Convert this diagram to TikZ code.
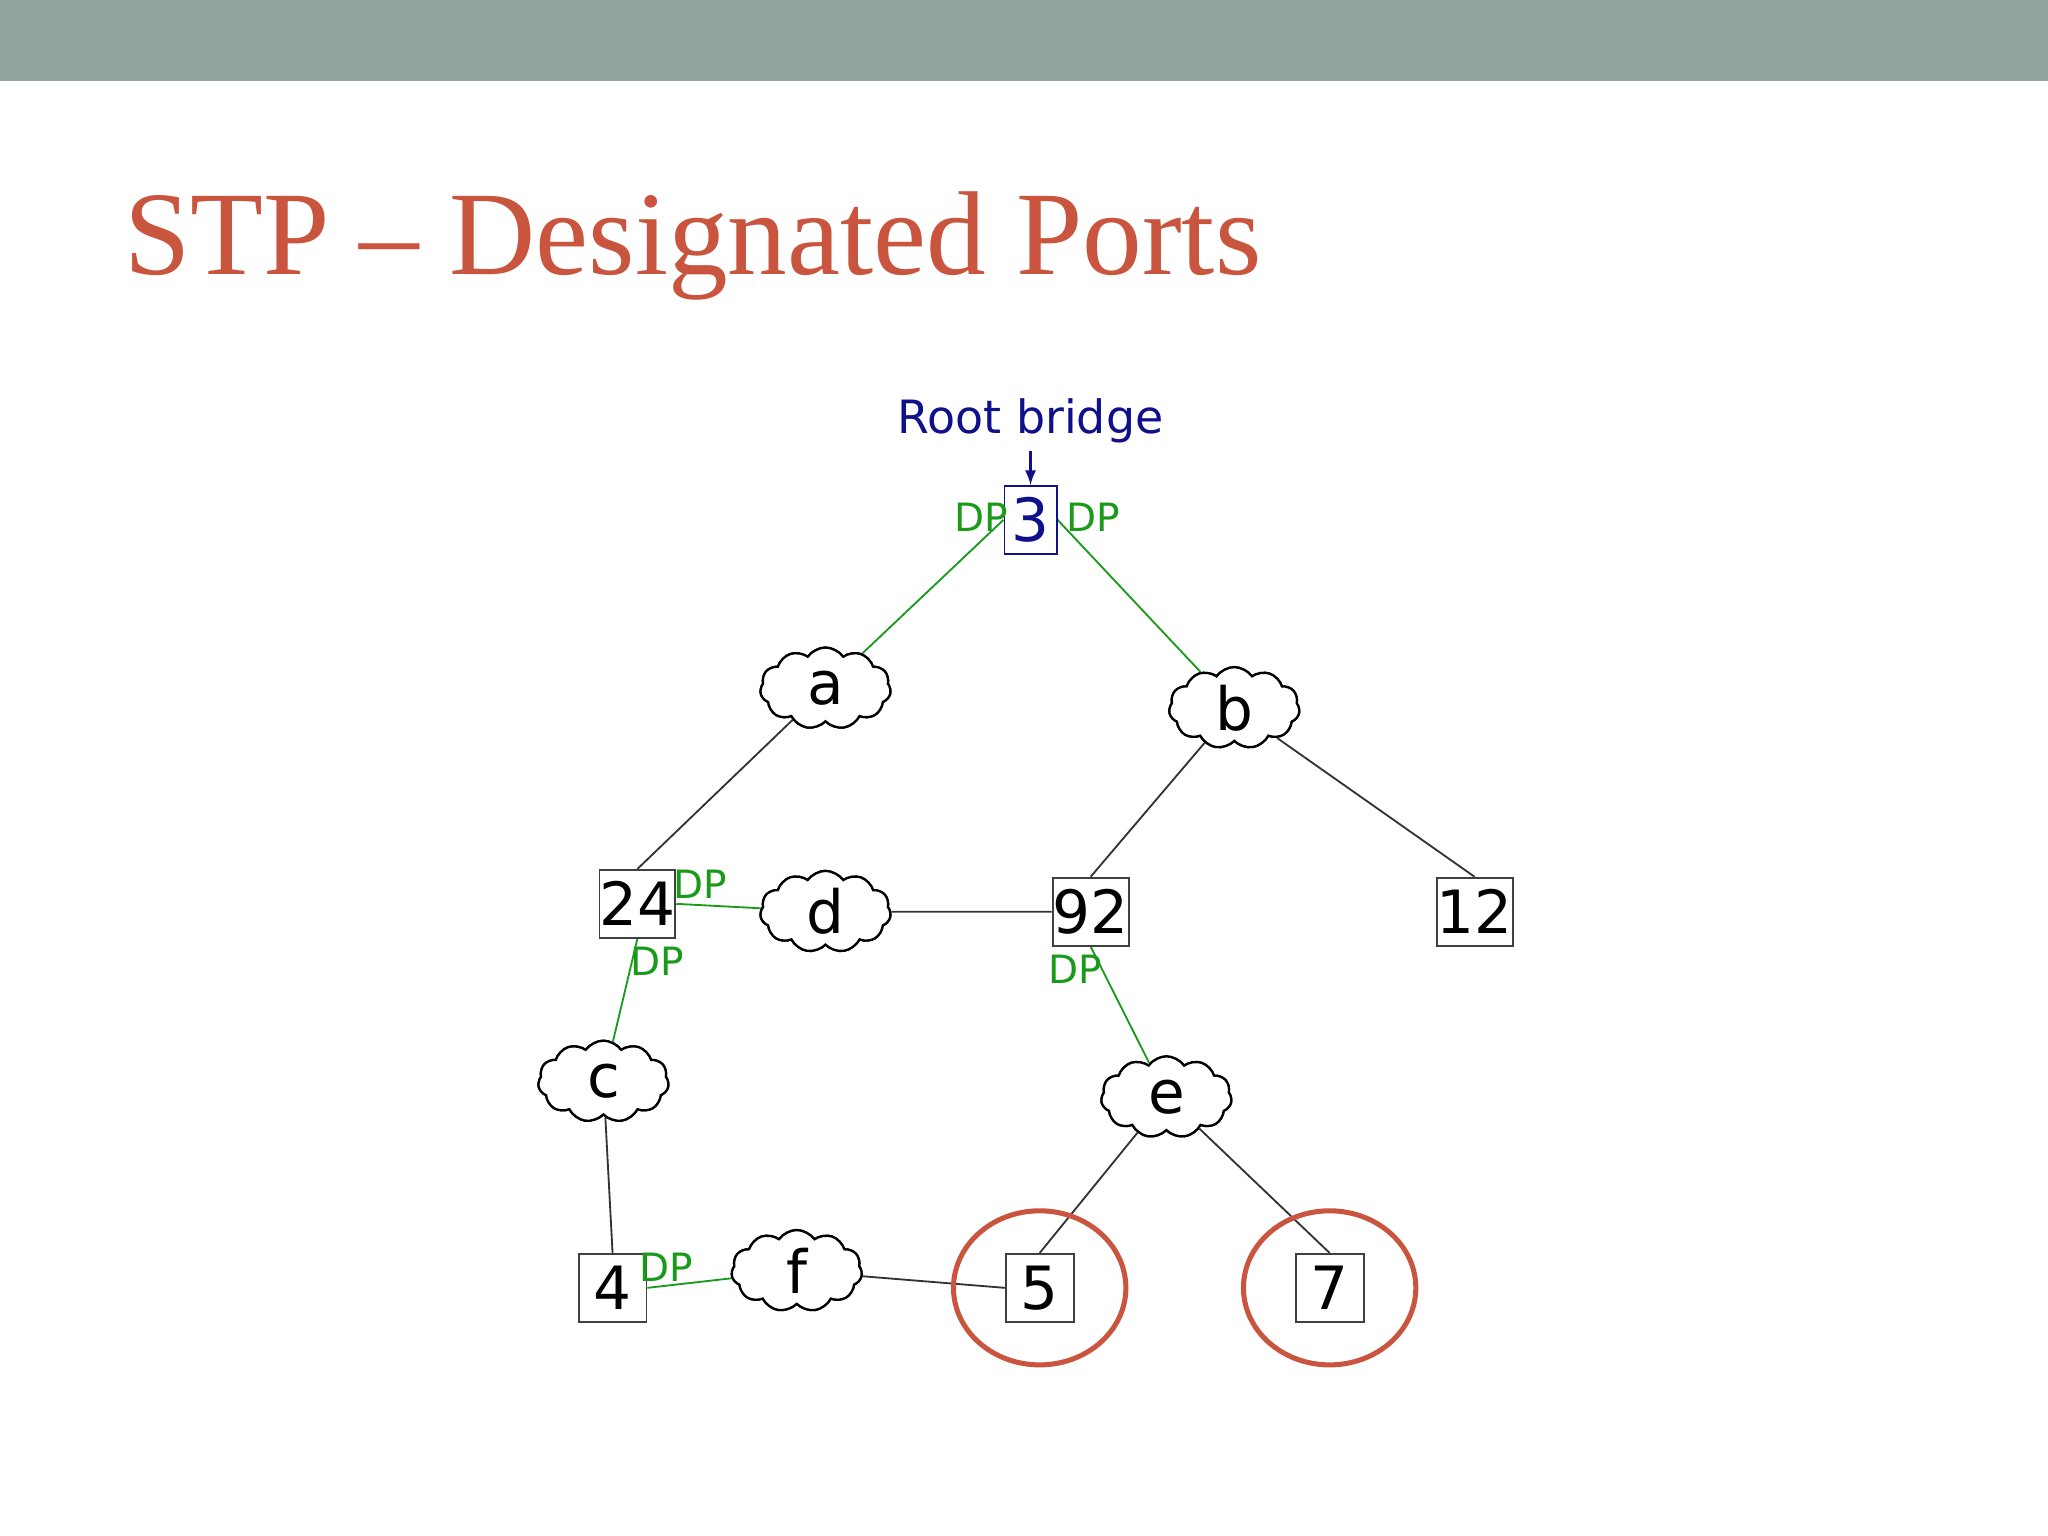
\documentclass[tikz,border=0pt]{standalone}
\usepackage{fontspec}
\setmainfont{DejaVu Sans}
\newfontfamily\titlefont{Liberation Serif}
\usetikzlibrary{shapes.symbols,shapes.geometric}
\definecolor{band}{HTML}{91A39A}
\definecolor{titlec}{HTML}{C9553F}
\definecolor{dpg}{HTML}{1A9A1A}
\definecolor{rootb}{HTML}{10108A}
\begin{document}
\begin{tikzpicture}[x=0.02cm,y=-0.02cm,
  br/.style={draw=black!75,fill=white,line width=0.8pt,minimum width=1.04cm,minimum height=1.04cm,inner sep=0pt,font=\fontsize{26}{28}\selectfont},
  cl/.style={cloud,cloud puffs=11,cloud puff arc=110,aspect=1.6,draw,fill=white,line width=1pt,minimum width=2.0cm,minimum height=1.25cm,inner sep=0pt,font=\fontsize{26}{28}\selectfont},
  gl/.style={draw=dpg,line width=0.8pt},
  bl/.style={draw=black!80,line width=0.8pt},
  dp/.style={text=dpg,font=\fontsize{17}{19}\selectfont,inner sep=0pt},
  rc/.style={draw=titlec,line width=2.2pt,ellipse}]
\useasboundingbox (0,0) rectangle (1568,1176);
\fill[band] (0,0) rectangle (1568,62);
\node[anchor=base west,text=titlec,font=\titlefont\fontsize{52}{56}\selectfont,inner sep=0pt] (title) at (95,210) {STP – Designated Ports};
% nodes
\node[cl] (a) at (632,527) {a};
\node[cl] (b) at (945,542) {b};
\node[cl] (d) at (632,698) {d};
\node[cl] (c) at (462,828) {c};
\node[cl] (e) at (893,840) {e};
\node[cl] (f) at (610,973) {f};
\node[br,draw=rootb,text=rootb,minimum width=0.8cm] (n3) at (789,398) {3};
\node[br] (n24) at (488,692) {24};
\node[br] (n92) at (835,698) {92};
\node[br] (n12) at (1129,698) {12};
\node[br] (n4) at (469,986) {4};
\node[br] (n5) at (796,986) {5};
\node[br] (n7) at (1018,986) {7};
% edges
\draw[gl] (n3.west) -- (a);
\draw[gl] (n3.east) -- (b);
\draw[gl] (n24.east) -- (d);
\draw[gl] (n24.south) -- (c);
\draw[gl] (n92.south) -- (e);
\draw[gl] (n4.east) -- (f);
\draw[bl] (a) -- (n24.north);
\draw[bl] (b) -- (n92.north);
\draw[bl] (b) -- (n12.north);
\draw[bl] (d) -- (n92.west);
\draw[bl] (c) -- (n4.north);
\draw[bl] (e) -- (n5.north);
\draw[bl] (e) -- (n7.north);
\draw[bl] (f) -- (n5.west);
% redraw nodes on top
\node[cl] at (a) {a};
\node[cl] at (b) {b};
\node[cl] at (d) {d};
\node[cl] at (c) {c};
\node[cl] at (e) {e};
\node[cl] at (f) {f};
\node[br,draw=rootb,text=rootb,minimum width=0.8cm] at (n3) {3};
\node[br] at (n24) {24};
\node[br] at (n92) {92};
\node[br] at (n12) {12};
\node[br] at (n4) {4};
\node[br] at (n5) {5};
\node[br] at (n7) {7};
% circles
\node[rc,minimum width=2.64cm,minimum height=2.36cm] (o5) at (796,986) {};
\node[rc,minimum width=2.64cm,minimum height=2.36cm] (o7) at (1018,986) {};
% labels
\node[dp] (dp1) at (751,396) {DP};
\node[dp] (dp2) at (837,396) {DP};
\node[dp] (dp3) at (536,677) {DP};
\node[dp] (dp4) at (503,736) {DP};
\node[dp] (dp5) at (823,742) {DP};
\node[dp] (dp6) at (510,970) {DP};
\node[text=rootb,font=\fontsize{20}{22}\selectfont] (rb) at (789,322) {Root bridge};
\draw[rootb,line width=1.2pt,-latex] (rb.south) -- (n3.north);
\end{tikzpicture}
\end{document}
